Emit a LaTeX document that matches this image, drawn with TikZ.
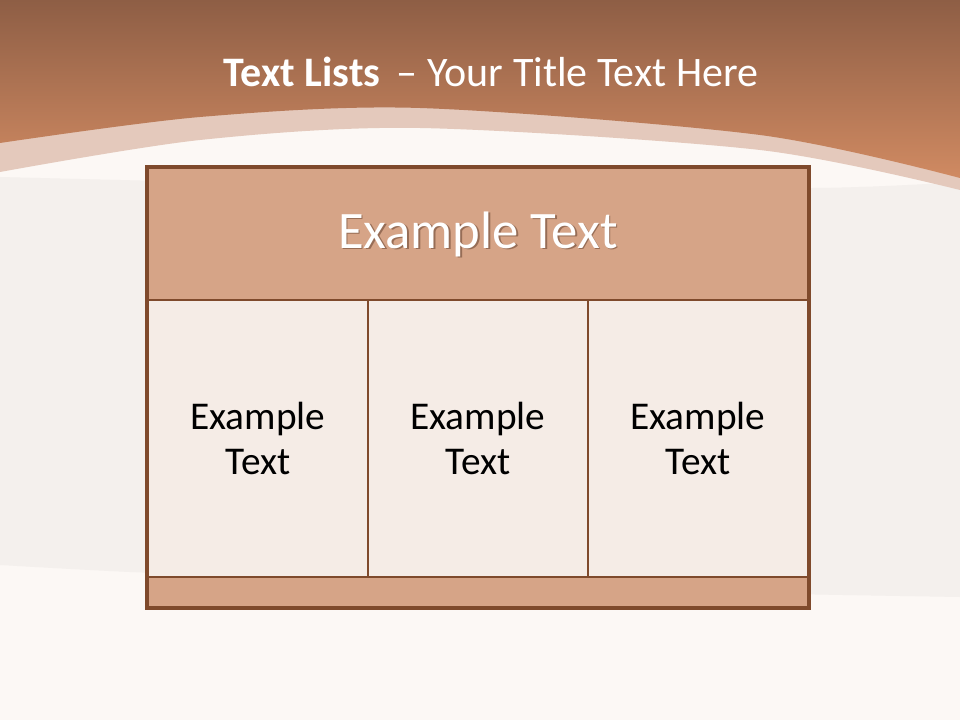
\documentclass[tikz,border=0pt]{standalone}
\usepackage{fontspec}
\setmainfont{Carlito}
\definecolor{bgwhite}{HTML}{FCF8F5}
\definecolor{bggrey}{HTML}{F4F0ED}
\definecolor{topdark}{HTML}{8E5E45}
\definecolor{toplight}{HTML}{D08A62}
\definecolor{band}{HTML}{E4C9BC}
\definecolor{hdrfill}{HTML}{D6A487}
\definecolor{colfill}{HTML}{F5ECE6}
\definecolor{border}{HTML}{7F4A2C}
\tikzset{
  cellbox/.style={draw=border, line width=1.9pt, inner sep=0pt, align=center},
  hdrbox/.style={cellbox, fill=hdrfill, minimum width=495pt, minimum height=99pt},
  colbox/.style={cellbox, fill=colfill, minimum width=165pt, minimum height=207.75pt,
     font=\fontsize{29.5}{34}\selectfont, text=black},
  footbox/.style={cellbox, fill=hdrfill, minimum width=495pt, minimum height=22.5pt},
  titletext/.style={text=white, inner sep=0pt, font=\fontsize{31.5}{36}\selectfont},
  hdrtext/.style={inner sep=0pt, font=\fontsize{39.5}{46}\selectfont}
}
\begin{document}
\begin{tikzpicture}[x=0.75pt,y=-0.75pt]
\useasboundingbox (0,0) rectangle (960,720);
% background
\fill[bgwhite] (0,0) rectangle (960,720);
\fill[bggrey] (0,177) -- plot[smooth] coordinates {(200,182) (480,186) (813,188) (960,182)}
   -- (960,597) -- plot[smooth] coordinates {(960,597) (600,590) (300,578) (130,572) (0,565)} -- cycle;
% band
\fill[band] (0,0) -- (960,0) -- plot[smooth] coordinates {(960,190) (760,150) (420,128) (200,140) (0,172)} -- cycle;
% top gradient
\shade[top color=topdark, bottom color=toplight] (0,0) -- (960,0) -- plot[smooth] coordinates {(960,178) (760,135) (420,108) (200,117) (0,143)} -- cycle;
% title
\node[titletext, anchor=base] (title) at (491,87) {\textbf{Text Lists}\, – Your Title Text Here};
% table
\node[hdrbox] (hdr) at (478,234) {};
\node[colbox] (c1) at (258,438.5) {Example\\Text};
\node[colbox] (c2) at (478,438.5) {Example\\Text};
\node[colbox] (c3) at (698,438.5) {Example\\Text};
\node[footbox] (foot) at (478,592) {};
\draw[border, line width=2.3pt] (hdr.north west) rectangle (foot.south east);
\node[hdrtext, text=border!60!black, opacity=0.45] (hdrshadow) at ([xshift=1.2pt,yshift=-1.2pt]hdr.center) {Example Text};
\node[hdrtext, text=white] (hdrtitle) at (hdr.center) {Example Text};
\end{tikzpicture}
\end{document}
